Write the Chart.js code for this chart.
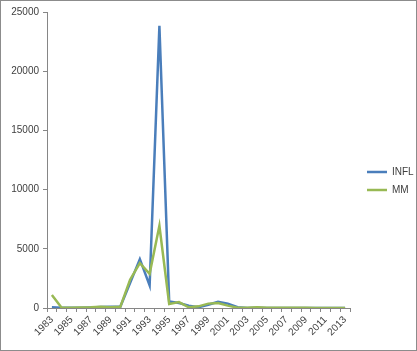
<!DOCTYPE html>
<html>
<head>
<meta charset="utf-8">
<script src="https://cdn.jsdelivr.net/npm/chart.js@4"></script>
<style>
html,body{margin:0;padding:0;background:#fff;}
#wrap{position:absolute;left:0;top:0;width:415px;height:349px;border:1px solid #8c8c8c;background:#fff;}
</style>
</head>
<body>
<div id="wrap"><canvas id="chart" width="415" height="349"></canvas></div>
<script>
const years=["1983","1984","1985","1986","1987","1988","1989","1990","1991","1992","1993","1994","1995","1996","1997","1998","1999","2000","2001","2002","2003","2004","2005","2006","2007","2008","2009","2010","2011","2012","2013"];
const infl=[60,20,20,30,50,80,100,100,2100,4130,1910,23830,560,420,200,60,280,530,370,60,10,20,10,10,10,10,10,5,5,5,5];
const mm=[1100,20,20,40,60,100,60,100,2390,3790,2890,6940,340,500,60,140,370,420,200,30,20,60,20,20,30,30,30,10,10,10,5];
const yTicks=[0,5000,10000,15000,20000,25000];

const font={family:"'Liberation Sans', Arial, sans-serif",size:10};

// force the legend column to a fixed width so the plot ends where Excel's did
const legendWidth={
id:"legendWidth",
beforeLayout(chart){
const lg=chart.legend;
if(lg && !lg._fixed){
const fit=lg.fit.bind(lg);
lg.fit=function(){fit();this.width=66;};
lg._fixed=true;
}
},
afterLayout(chart){
// nudge legend items right, like the original
if(chart.legend){chart.legend.left+=9;chart.legend.right+=9;}
}
};

new Chart(document.getElementById("chart"),{
type:"line",
data:{
labels:years,
datasets:[
{label:"INFL",data:infl,order:1,borderColor:"#4a7ebb",backgroundColor:"#4a7ebb",borderWidth:2.5,pointRadius:0,tension:0},
{label:"MM",data:mm,order:0,borderColor:"#98b954",backgroundColor:"#98b954",borderWidth:2.5,pointRadius:0,tension:0}
]
},
options:{
responsive:false,
animation:false,
layout:{padding:{top:11,left:0,right:0,bottom:0}},
plugins:{
legend:{
position:"right",
labels:{usePointStyle:true,pointStyle:"line",pointStyleWidth:20,boxHeight:10,padding:8,color:"#404040",font:font,
sort:(a,b)=>a.datasetIndex-b.datasetIndex}
},
tooltip:{enabled:false}
},
scales:{
x:{
offset:true,
grid:{offset:true,drawOnChartArea:false,tickLength:4,color:"#868686"},
border:{color:"#868686"},
ticks:{
autoSkip:false,minRotation:45,maxRotation:45,color:"#404040",font:font,padding:2,
callback:function(v,i){return i%2===0?this.getLabelForValue(v):"";}
},
afterFit(s){s.height=42;}
},
y:{
min:0,max:25000,
afterBuildTicks(s){s.ticks=yTicks.map(v=>({value:v}));},
grid:{drawOnChartArea:false,tickLength:4,color:"#868686"},
border:{color:"#868686"},
ticks:{color:"#404040",font:font,padding:4,callback:v=>String(v)},
afterFit(s){s.width=46;}
}
}
},
plugins:[legendWidth]
});
</script>
</body>
</html>
